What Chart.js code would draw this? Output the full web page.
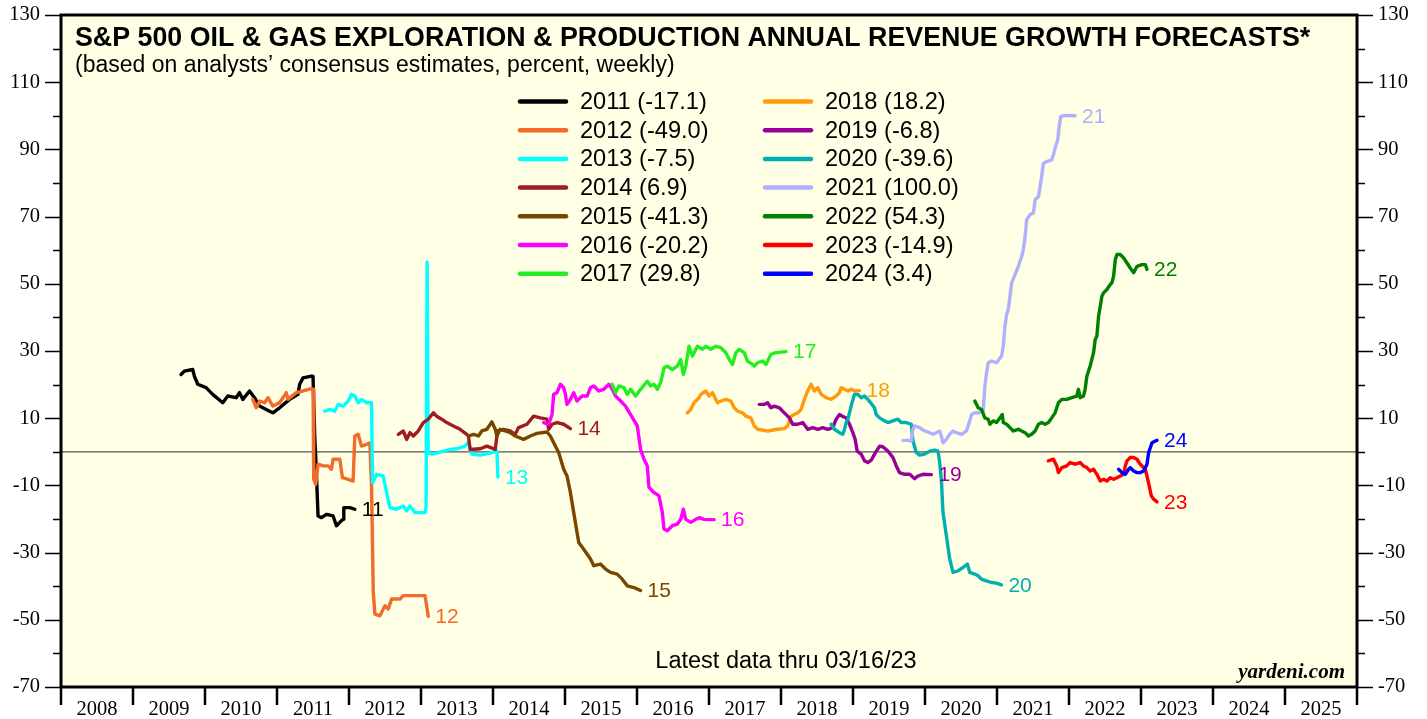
<!DOCTYPE html>
<html><head><meta charset="utf-8">
<script src="https://cdn.jsdelivr.net/npm/chart.js@4.4.1/dist/chart.umd.min.js"></script>
<style>html,body{margin:0;padding:0;background:#fff}canvas{display:block}</style>
</head><body>
<canvas id="c" width="1427" height="719"></canvas>
<script>
// ---------------- DATA ----------------
const seriesYears = [2011,2012,2013,2014,2015,2016,2017,2018,2019,2020,2021,2022,2023,2024];
const xTickYears = [2008,2009,2010,2011,2012,2013,2014,2015,2016,2017,2018,2019,2020,2021,2022,2023,2024,2025];

const s2011 = [[2009.667,23.0],[2009.713,24.0],[2009.829,24.5],[2009.852,22.5],[2009.899,20.1],[2010.015,19.1],[2010.107,17.1],[2010.247,14.6],[2010.316,16.6],[2010.433,16.1],[2010.479,17.6],[2010.526,15.6],[2010.618,18.1],[2010.688,16.1],[2010.758,13.6],[2010.897,12.1],[2010.943,11.6],[2011.036,13.1],[2011.175,15.6],[2011.291,17.1],[2011.315,20.1],[2011.361,22.0],[2011.478,22.5],[2011.500,22.5],[2011.524,4.7],[2011.547,-6.2],[2011.570,-19.1],[2011.617,-19.6],[2011.687,-18.6],[2011.779,-19.1],[2011.826,-22.0],[2011.872,-21.0],[2011.918,-20.1],[2011.928,-16.6],[2012.011,-16.6],[2012.081,-17.1]];
const s2012 = [[2010.665,15.6],[2010.711,13.1],[2010.758,15.1],[2010.827,14.6],[2010.874,16.1],[2010.943,13.6],[2011.036,14.6],[2011.129,17.6],[2011.152,15.6],[2011.268,17.6],[2011.361,18.1],[2011.478,18.8],[2011.501,18.6],[2011.510,-8.2],[2011.538,-9.7],[2011.570,-3.7],[2011.640,-4.2],[2011.709,-4.2],[2011.756,-5.2],[2011.779,-2.2],[2011.872,-2.2],[2011.909,-7.7],[2011.988,-8.2],[2012.057,-8.7],[2012.081,4.7],[2012.127,5.2],[2012.174,1.7],[2012.244,2.2],[2012.290,2.7],[2012.313,-10.2],[2012.337,-41.8],[2012.360,-48.3],[2012.429,-48.8],[2012.499,-45.8],[2012.545,-46.8],[2012.592,-43.8],[2012.708,-43.8],[2012.754,-42.8],[2013.056,-42.8],[2013.101,-49.0]];
const s2013 = [[2011.663,12.1],[2011.733,12.6],[2011.802,12.1],[2011.849,14.1],[2011.918,13.6],[2011.988,15.1],[2012.035,17.1],[2012.081,16.6],[2012.127,14.6],[2012.174,15.6],[2012.244,14.6],[2012.313,14.6],[2012.327,-9.2],[2012.383,-6.7],[2012.475,-7.2],[2012.522,-12.1],[2012.568,-16.6],[2012.661,-17.1],[2012.754,-16.1],[2012.800,-17.6],[2012.847,-16.1],[2012.917,-18.1],[2013.056,-18.1],[2013.070,-16.5],[2013.085,56.5],[2013.100,-0.3],[2013.149,-0.7],[2013.219,-0.4],[2013.311,0.2],[2013.404,0.7],[2013.497,0.9],[2013.613,1.7],[2013.659,2.9],[2013.706,-0.7],[2013.822,-1.0],[2013.961,-0.4],[2014.054,0.2],[2014.068,-7.5]];
const s2014 = [[2012.685,5.2],[2012.754,6.2],[2012.800,3.7],[2012.847,5.7],[2012.893,4.7],[2012.962,6.2],[2013.032,8.7],[2013.101,9.7],[2013.171,11.6],[2013.218,10.6],[2013.288,9.7],[2013.357,8.7],[2013.450,7.7],[2013.543,6.7],[2013.636,5.2],[2013.659,4.7],[2013.682,0.7],[2013.822,0.9],[2013.915,1.7],[2014.031,0.7],[2014.063,6.2],[2014.146,6.7],[2014.239,6.2],[2014.309,5.2],[2014.355,7.2],[2014.472,8.2],[2014.564,10.6],[2014.657,10.1],[2014.750,9.7],[2014.773,6.7],[2014.820,8.2],[2014.889,8.7],[2014.982,8.2],[2015.075,6.9]];
const s2015 = [[2013.659,4.7],[2013.729,5.2],[2013.798,4.7],[2013.845,6.2],[2013.915,6.7],[2013.984,8.9],[2014.031,6.7],[2014.054,4.7],[2014.100,6.7],[2014.170,6.2],[2014.239,5.7],[2014.309,4.7],[2014.425,3.7],[2014.518,4.7],[2014.611,5.5],[2014.750,5.9],[2014.796,4.7],[2014.866,1.7],[2014.912,-0.2],[2014.982,-5.2],[2015.028,-7.2],[2015.075,-12.1],[2015.121,-18.1],[2015.191,-27.0],[2015.260,-29.0],[2015.354,-31.9],[2015.400,-33.9],[2015.493,-33.4],[2015.563,-34.9],[2015.632,-35.9],[2015.725,-36.4],[2015.795,-37.9],[2015.864,-39.9],[2015.957,-40.4],[2016.050,-41.3]];
const s2016 = [[2014.703,8.7],[2014.773,8.2],[2014.820,11.1],[2014.843,17.1],[2014.889,17.6],[2014.936,20.1],[2014.982,19.1],[2015.006,17.1],[2015.028,14.1],[2015.075,15.6],[2015.121,17.6],[2015.167,15.1],[2015.237,16.6],[2015.307,16.6],[2015.354,19.1],[2015.400,19.6],[2015.470,18.1],[2015.539,18.6],[2015.609,20.1],[2015.656,18.6],[2015.702,16.6],[2015.772,15.1],[2015.841,13.6],[2015.911,11.1],[2016.004,7.7],[2016.050,0.7],[2016.097,-2.2],[2016.143,-4.2],[2016.166,-10.6],[2016.236,-12.1],[2016.305,-13.1],[2016.352,-18.1],[2016.375,-23.0],[2016.421,-23.5],[2016.491,-22.0],[2016.561,-21.5],[2016.607,-20.1],[2016.644,-17.1],[2016.677,-20.1],[2016.747,-21.0],[2016.816,-20.1],[2016.862,-19.6],[2016.932,-20.1],[2017.071,-20.2]];
const s2017 = [[2015.656,20.1],[2015.702,17.6],[2015.748,19.6],[2015.818,19.1],[2015.864,17.1],[2015.911,18.6],[2015.980,16.6],[2016.050,18.6],[2016.143,21.0],[2016.189,19.6],[2016.236,20.1],[2016.282,18.6],[2016.329,20.6],[2016.375,25.0],[2016.421,25.5],[2016.491,24.5],[2016.561,25.5],[2016.607,27.5],[2016.644,23.0],[2016.677,25.5],[2016.723,31.4],[2016.770,28.5],[2016.839,31.4],[2016.909,30.5],[2016.955,31.4],[2017.025,30.5],[2017.095,31.4],[2017.164,31.0],[2017.234,29.5],[2017.280,27.5],[2017.327,26.0],[2017.373,29.5],[2017.419,30.5],[2017.489,29.5],[2017.535,27.0],[2017.605,26.0],[2017.628,25.5],[2017.674,26.5],[2017.744,27.0],[2017.791,26.0],[2017.860,29.0],[2017.930,29.5],[2018.070,29.8]];
const s2018 = [[2016.700,11.6],[2016.747,12.6],[2016.793,14.6],[2016.862,16.1],[2016.886,17.1],[2016.955,18.1],[2017.000,16.6],[2017.048,17.6],[2017.118,14.6],[2017.164,15.1],[2017.234,15.6],[2017.304,15.1],[2017.350,13.1],[2017.397,12.1],[2017.466,11.6],[2017.513,10.6],[2017.582,10.1],[2017.628,7.7],[2017.674,6.7],[2017.814,6.2],[2017.953,6.7],[2018.046,6.9],[2018.092,7.7],[2018.139,10.6],[2018.232,11.6],[2018.279,12.6],[2018.325,15.6],[2018.371,18.1],[2018.418,20.1],[2018.464,18.1],[2018.511,19.1],[2018.557,17.1],[2018.627,16.1],[2018.696,15.6],[2018.766,16.6],[2018.812,17.6],[2018.836,19.1],[2018.882,18.6],[2018.928,18.1],[2018.975,18.6],[2019.021,18.1],[2019.091,18.2]];
const s2019 = [[2017.698,14.1],[2017.767,14.1],[2017.814,14.6],[2017.860,13.1],[2017.907,13.6],[2017.977,13.1],[2018.046,11.6],[2018.116,10.1],[2018.162,8.2],[2018.232,8.2],[2018.302,8.7],[2018.371,6.7],[2018.441,7.2],[2018.511,6.7],[2018.580,7.2],[2018.650,6.7],[2018.720,7.2],[2018.766,9.7],[2018.812,11.1],[2018.859,10.5],[2018.905,10.1],[2018.951,8.2],[2018.998,5.7],[2019.030,3.7],[2019.058,0.2],[2019.114,-0.7],[2019.160,-2.7],[2019.206,-3.2],[2019.253,-2.5],[2019.299,-0.7],[2019.369,1.7],[2019.415,1.5],[2019.485,0.2],[2019.555,-1.7],[2019.601,-4.2],[2019.647,-6.2],[2019.717,-6.7],[2019.787,-6.7],[2019.856,-8.0],[2019.903,-7.2],[2019.972,-6.7],[2020.089,-6.8]];
const s2020 = [[2018.696,8.2],[2018.742,6.7],[2018.812,5.7],[2018.859,5.2],[2018.882,6.7],[2018.905,8.7],[2018.928,9.7],[2018.951,11.6],[2018.984,14.4],[2019.021,17.1],[2019.067,17.1],[2019.114,16.1],[2019.160,16.6],[2019.206,15.6],[2019.253,14.4],[2019.299,13.1],[2019.322,11.1],[2019.369,10.1],[2019.439,9.2],[2019.485,8.7],[2019.555,9.2],[2019.624,9.7],[2019.671,8.7],[2019.740,8.7],[2019.810,8.2],[2019.833,3.2],[2019.879,-0.2],[2019.925,-1.0],[2019.995,-0.7],[2020.064,0.2],[2020.134,0.5],[2020.181,0.2],[2020.204,-3.2],[2020.227,-8.2],[2020.250,-18.1],[2020.297,-25.0],[2020.343,-31.9],[2020.390,-35.9],[2020.460,-35.4],[2020.529,-34.4],[2020.589,-33.4],[2020.621,-35.9],[2020.691,-36.4],[2020.737,-36.9],[2020.783,-37.9],[2020.853,-38.4],[2020.922,-38.9],[2020.992,-39.1],[2021.061,-39.6]];
const s2021 = [[2019.694,3.4],[2019.764,3.4],[2019.810,3.2],[2019.833,6.7],[2019.856,7.7],[2019.925,7.2],[2019.995,6.2],[2020.064,5.7],[2020.111,5.2],[2020.157,5.7],[2020.204,6.2],[2020.227,4.7],[2020.250,2.7],[2020.297,3.7],[2020.343,5.2],[2020.390,6.2],[2020.437,5.7],[2020.506,5.2],[2020.576,6.2],[2020.622,9.2],[2020.646,11.1],[2020.692,11.6],[2020.739,11.6],[2020.808,12.1],[2020.831,19.4],[2020.855,23.5],[2020.878,26.5],[2020.925,27.0],[2020.994,26.5],[2021.064,28.5],[2021.087,31.4],[2021.110,37.4],[2021.134,40.9],[2021.157,42.3],[2021.180,46.3],[2021.204,50.3],[2021.250,52.7],[2021.297,55.2],[2021.343,58.2],[2021.367,60.2],[2021.390,64.1],[2021.413,69.1],[2021.460,70.6],[2021.506,71.1],[2021.529,75.0],[2021.576,76.0],[2021.599,79.0],[2021.621,82.0],[2021.645,85.9],[2021.691,86.4],[2021.760,86.9],[2021.784,88.4],[2021.807,90.4],[2021.844,92.9],[2021.863,96.8],[2021.886,99.8],[2021.946,100.1],[2022.085,100.0]];
const s2022 = [[2020.692,15.1],[2020.739,13.1],[2020.785,12.6],[2020.831,10.1],[2020.878,9.7],[2020.901,8.2],[2020.947,9.2],[2020.994,8.7],[2021.040,10.1],[2021.073,11.1],[2021.087,8.7],[2021.134,8.2],[2021.180,7.2],[2021.227,6.2],[2021.297,6.7],[2021.343,6.2],[2021.390,5.7],[2021.436,4.7],[2021.482,5.2],[2021.529,6.2],[2021.576,8.2],[2021.621,8.7],[2021.668,8.2],[2021.714,8.7],[2021.760,10.1],[2021.807,11.6],[2021.853,14.6],[2021.900,15.6],[2021.969,15.6],[2022.039,16.1],[2022.108,16.6],[2022.131,18.6],[2022.155,16.1],[2022.201,16.6],[2022.224,18.6],[2022.248,22.5],[2022.294,25.5],[2022.341,29.5],[2022.364,33.4],[2022.387,34.4],[2022.411,40.4],[2022.434,43.3],[2022.457,46.3],[2022.480,47.3],[2022.526,48.3],[2022.573,49.8],[2022.596,50.3],[2022.619,52.2],[2022.643,57.2],[2022.666,58.7],[2022.712,58.7],[2022.759,57.7],[2022.805,56.2],[2022.851,54.7],[2022.898,53.3],[2022.944,55.2],[2023.013,55.7],[2023.060,55.7],[2023.083,54.3]];
const s2023 = [[2021.714,-2.7],[2021.784,-2.2],[2021.830,-4.2],[2021.853,-6.2],[2021.900,-4.7],[2021.969,-4.2],[2022.016,-3.2],[2022.085,-3.7],[2022.155,-3.2],[2022.201,-4.2],[2022.248,-4.7],[2022.294,-5.7],[2022.341,-5.2],[2022.387,-6.7],[2022.434,-8.7],[2022.480,-8.2],[2022.526,-8.7],[2022.573,-7.7],[2022.619,-8.2],[2022.666,-7.7],[2022.712,-7.2],[2022.759,-6.7],[2022.782,-4.2],[2022.805,-2.7],[2022.851,-1.7],[2022.898,-1.7],[2022.944,-2.2],[2022.990,-3.7],[2023.060,-5.2],[2023.083,-7.2],[2023.115,-10.2],[2023.143,-13.1],[2023.176,-14.1],[2023.222,-14.9]];
const s2024 = [[2022.689,-5.2],[2022.735,-6.2],[2022.782,-6.7],[2022.828,-5.2],[2022.851,-4.7],[2022.898,-5.7],[2022.944,-6.2],[2022.990,-6.2],[2023.037,-5.7],[2023.083,-3.7],[2023.106,-0.2],[2023.129,1.2],[2023.153,2.7],[2023.199,3.2],[2023.222,3.4]];

const seriesData = [s2011,s2012,s2013,s2014,s2015,s2016,s2017,s2018,s2019,s2020,s2021,s2022,s2023,s2024];

const titleText = 'S&P 500 OIL & GAS EXPLORATION & PRODUCTION ANNUAL REVENUE GROWTH FORECASTS*';
const subtitleText = '(based on analysts\u2019 consensus estimates, percent, weekly)';
const noteText = 'Latest data thru 03/16/23';
const sourceText = 'yardeni.com';

// ---------------- STYLE ----------------
const seriesColors = ['#000000','#f26b2a','#00ffff','#a01c24','#7a4500','#ff00ff','#22ee22','#ff9a0a','#990099','#00b0b0','#b0b0ff','#007f00','#ff0000','#0000ff'];
const SANS = "'Liberation Sans', Arial, Helvetica, sans-serif";
const SERIF = "'Liberation Serif', 'Times New Roman', serif";

const datasets = seriesYears.map((yr, i) => {
  const d = seriesData[i];
  const last = d[d.length - 1][1];
  return {
    label: yr + ' (' + last.toFixed(1) + ')',
    data: d.map(p => ({x: p[0], y: p[1]})),
    borderColor: seriesColors[i],
    backgroundColor: seriesColors[i],
    borderWidth: 3.4,
    pointRadius: 0,
    tension: 0,
    fill: false,
    borderJoinStyle: 'round',
    borderCapStyle: 'round',
    order: seriesYears.length - i
  };
});

const deco = {
  id: 'deco',
  beforeDraw(chart) {
    const {ctx, chartArea: a} = chart;
    ctx.save();
    ctx.fillStyle = '#ffffff';
    ctx.fillRect(0, 0, chart.width, chart.height);
    ctx.fillStyle = '#ffffe6';
    ctx.fillRect(a.left, a.top, a.right - a.left, a.bottom - a.top);
    ctx.restore();
  },
  beforeDatasetsDraw(chart) {
    const {ctx, chartArea: a, scales} = chart;
    const y0 = scales.y.getPixelForValue(0);
    ctx.save();
    ctx.strokeStyle = '#555';
    ctx.lineWidth = 1.2;
    ctx.beginPath(); ctx.moveTo(a.left, y0); ctx.lineTo(a.right, y0); ctx.stroke();
    ctx.restore();
  },
  afterDatasetsDraw(chart) {
    const {ctx, chartArea: a, scales} = chart;
    ctx.save();
    // y tick marks (major labelled, minor between)
    ctx.strokeStyle = '#000';
    ctx.lineWidth = 1.5;
    for (let v = scales.y.min; v <= scales.y.max + 0.01; v += 10) {
      const py = Math.round(scales.y.getPixelForValue(v)) + 0.5;
      const major = Math.round(v - scales.y.min) % 20 === 0;
      const len = major ? 16 : 8;
      ctx.beginPath();
      ctx.moveTo(a.left - len, py); ctx.lineTo(a.left, py);
      ctx.moveTo(a.right, py); ctx.lineTo(a.right + len, py);
      ctx.stroke();
    }
    // x year boundary ticks
    ctx.lineWidth = 2.5;
    for (let yv = scales.x.min; yv <= scales.x.max + 0.01; yv += 1) {
      const px = scales.x.getPixelForValue(yv);
      ctx.beginPath(); ctx.moveTo(px, a.bottom); ctx.lineTo(px, a.bottom + 18); ctx.stroke();
    }
    // plot frame
    ctx.lineWidth = 3;
    ctx.strokeRect(a.left, a.top, a.right - a.left, a.bottom - a.top);

    // title / subtitle
    ctx.fillStyle = '#000';
    ctx.textAlign = 'left';
    ctx.textBaseline = 'alphabetic';
    ctx.font = 'bold 26.8px ' + SANS;
    ctx.fillText(titleText, 75, 46);
    ctx.font = '23px ' + SANS;
    ctx.fillText(subtitleText, 75, 72);

    // legend (two columns)
    ctx.textBaseline = 'middle';
    chart.data.datasets.forEach((ds, i) => {
      const col = i < 7 ? 0 : 1;
      const row = i % 7;
      const lx = col === 0 ? 520 : 765;
      const ly = 101.5 + row * 28.7;
      ctx.strokeStyle = ds.borderColor;
      ctx.lineWidth = 4.5;
      ctx.lineCap = 'round';
      ctx.beginPath(); ctx.moveTo(lx, ly); ctx.lineTo(lx + 46, ly); ctx.stroke();
      ctx.fillStyle = '#000';
      ctx.font = '23.6px ' + SANS;
      ctx.fillText(ds.label, lx + 60, ly + 1);
    });

    // end-of-line labels
    ctx.font = '21px ' + SANS;
    chart.data.datasets.forEach((ds, i) => {
      const meta = chart.getDatasetMeta(i);
      const pt = meta.data[meta.data.length - 1];
      ctx.fillStyle = ds.borderColor;
      ctx.fillText(String(seriesYears[i]).slice(2), pt.x + 7, pt.y + 1);
    });

    // notes
    ctx.fillStyle = '#000';
    ctx.textBaseline = 'alphabetic';
    ctx.textAlign = 'center';
    ctx.font = '23.5px ' + SANS;
    ctx.fillText(noteText, 786, 668);
    ctx.textAlign = 'right';
    ctx.font = 'italic bold 21px ' + SERIF;
    ctx.fillText(sourceText, 1345, 678);
    ctx.restore();
  }
};

const tickFont = {family: SERIF, size: 20.5};

new Chart(document.getElementById('c'), {
  type: 'line',
  data: {datasets},
  options: {
    responsive: false,
    animation: false,
    devicePixelRatio: 1,
    layout: {padding: {top: 15, left: 0, right: 0, bottom: 0}},
    plugins: {legend: {display: false}, tooltip: {enabled: false}},
    scales: {
      x: {
        type: 'linear', min: 2008, max: 2026,
        grid: {display: false, drawTicks: true, tickLength: 10}, border: {display: false},
        afterBuildTicks(scale) { scale.ticks = xTickYears.map(v => ({value: v + 0.5})); },
        afterFit(scale) { scale.height = 32; },
        ticks: {autoSkip: false, maxRotation: 0, padding: 0, color: '#000', font: tickFont,
          callback: (v, i) => String(xTickYears[i])}
      },
      y: {
        type: 'linear', position: 'left', min: -70, max: 130,
        grid: {display: false, drawTicks: true, tickLength: 21}, border: {display: false},
        afterFit(scale) { scale.width = 61; },
        ticks: {stepSize: 20, padding: 0, color: '#000', font: tickFont}
      },
      y2: {
        type: 'linear', position: 'right', min: -70, max: 130,
        grid: {display: false, drawTicks: true, tickLength: 21}, border: {display: false},
        afterFit(scale) { scale.width = 70; },
        ticks: {stepSize: 20, padding: 0, color: '#000', font: tickFont}
      }
    }
  },
  plugins: [deco]
});
</script>
</body></html>
